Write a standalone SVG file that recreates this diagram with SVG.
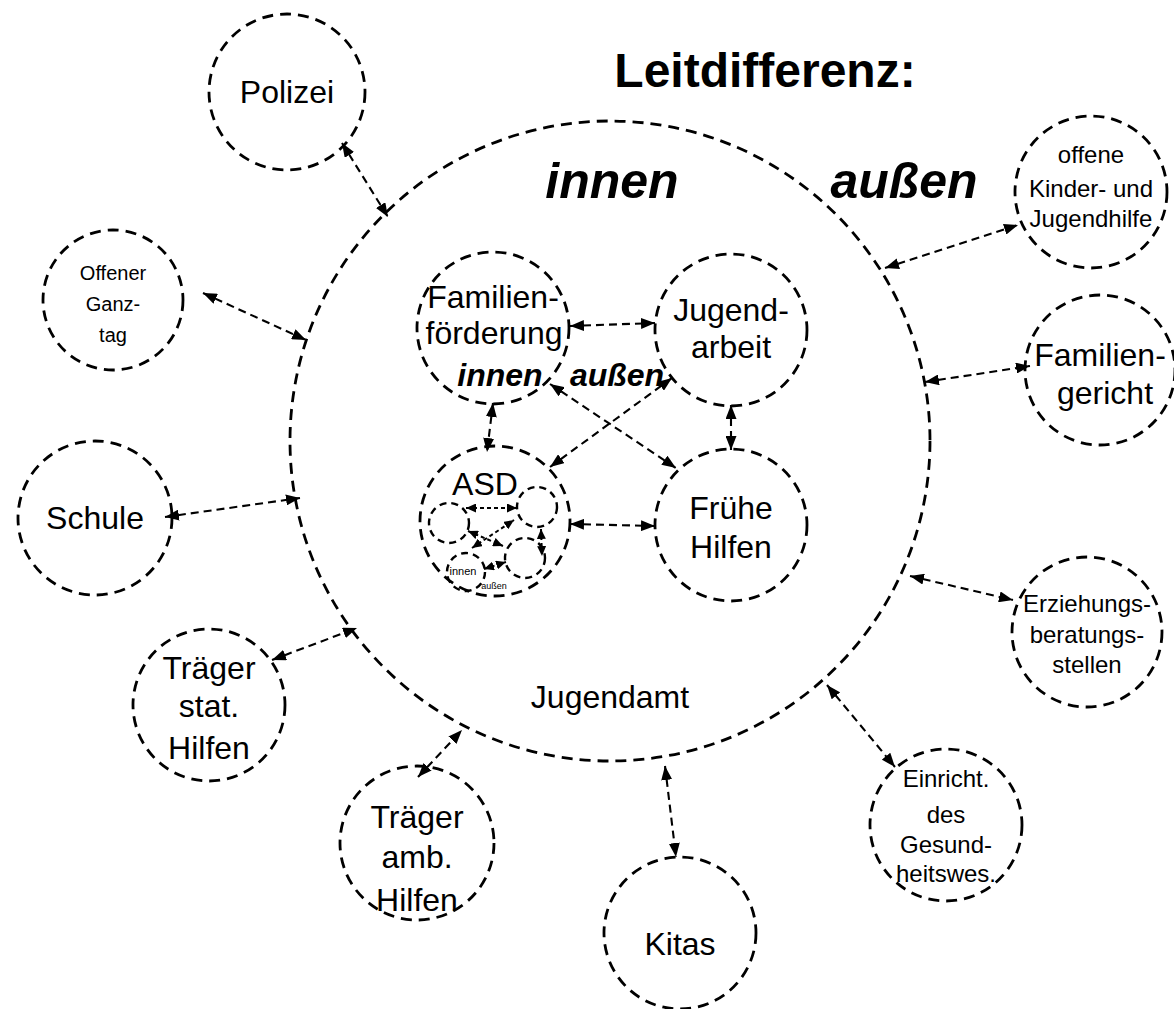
<svg xmlns="http://www.w3.org/2000/svg" width="1174" height="1009" viewBox="0 0 1174 1009">
  <style>
    .ring { fill: none; stroke: #000; stroke-width: 2.8; stroke-dasharray: 11 7; }
    .mini { fill: none; stroke: #000; stroke-width: 2.4; stroke-dasharray: 7 5; }
    .link { fill: none; stroke: #000; stroke-width: 2.1; stroke-dasharray: 8 5; marker-start: url(#ah); marker-end: url(#ah); }
    .mlink { fill: none; stroke: #000; stroke-width: 2; stroke-dasharray: 4 3; marker-start: url(#ahs); marker-end: url(#ahs); }
    text { font-family: "Liberation Sans", Arial, sans-serif; fill: #000; text-anchor: middle; }
    .t32 { font-size: 32px; }
    .t24 { font-size: 24px; }
    .t20 { font-size: 20px; }
    .big { font-size: 50px; font-weight: bold; font-style: italic; }
    .bi { font-size: 32px; font-weight: bold; font-style: italic; }
    .title { font-size: 48px; font-weight: bold; }
  </style>
  <defs>
    <marker id="ah" viewBox="0 0 14 11" refX="14" refY="5.5" markerWidth="14" markerHeight="11" markerUnits="userSpaceOnUse" orient="auto-start-reverse">
      <path d="M0,0 L14,5.5 L0,11 z" fill="#000"/>
    </marker>
    <marker id="ahs" viewBox="0 0 10 9" refX="10" refY="4.5" markerWidth="10" markerHeight="9" markerUnits="userSpaceOnUse" orient="auto-start-reverse">
      <path d="M0,0 L10,4.5 L0,9 z" fill="#000"/>
    </marker>
  </defs>

  <rect width="1174" height="1009" fill="#fff"/>

  <text class="title" x="765" y="87">Leitdifferenz:</text>

  <!-- Jugendamt: the large enclosing ring -->
  <g id="jugendamt">
    <circle class="ring" cx="610" cy="441" r="320"/>
    <text class="big" x="612" y="198">innen</text>
    <text class="big" x="904" y="198">außen</text>
    <text class="t32" x="610" y="708">Jugendamt</text>
  </g>

  <!-- inner services -->
  <g id="familienfoerderung">
    <circle class="ring" cx="493" cy="328" r="76"/>
    <text class="t32" x="493" y="308">Familien-</text>
    <text class="t32" x="494" y="344">förderung</text>
    <text class="bi" x="500" y="386">innen</text>
    <text class="bi" x="617" y="386">außen</text>
  </g>
  <g id="jugendarbeit">
    <circle class="ring" cx="731" cy="330" r="76"/>
    <text class="t32" x="731" y="321">Jugend-</text>
    <text class="t32" x="731" y="358">arbeit</text>
  </g>
  <g id="fruehe-hilfen">
    <circle class="ring" cx="731" cy="525" r="76"/>
    <text class="t32" x="731" y="519">Frühe</text>
    <text class="t32" x="731" y="558">Hilfen</text>
  </g>
  <g id="asd">
    <circle class="ring" cx="495" cy="521" r="75"/>
    <text class="t32" x="485" y="495">ASD</text>
    <!-- nested miniature of the four inner services -->
    <circle class="mini" cx="449" cy="523" r="20"/>
    <circle class="mini" cx="537" cy="507" r="20"/>
    <circle class="mini" cx="525" cy="558" r="20"/>
    <circle class="mini" cx="466" cy="572" r="19"/>
    <text x="463" y="575" style="font-size:11px">innen</text>
    <text x="494" y="589" style="font-size:9px">außen</text>
    <path class="mlink" d="M466,508 L517,508"/>
    <path class="mlink" d="M541,529 L542,556"/>
    <path class="mlink" d="M468,531 L503,546"/>
    <path class="mlink" d="M472,548 L514,520"/>
    <path class="mlink" d="M484,569 L506,562"/>
  </g>

  <!-- outer partners -->
  <g id="polizei">
    <circle class="ring" cx="287" cy="92" r="78"/>
    <text class="t32" x="287" y="103">Polizei</text>
  </g>
  <g id="offener-ganztag">
    <circle class="ring" cx="113" cy="300" r="70"/>
    <text class="t20" x="113" y="280">Offener</text>
    <text class="t20" x="113" y="311">Ganz-</text>
    <text class="t20" x="113" y="342">tag</text>
  </g>
  <g id="schule">
    <circle class="ring" cx="95" cy="518" r="77"/>
    <text class="t32" x="95" y="529">Schule</text>
  </g>
  <g id="traeger-stat">
    <circle class="ring" cx="209" cy="705" r="76"/>
    <text class="t32" x="209" y="679">Träger</text>
    <text class="t32" x="209" y="717">stat.</text>
    <text class="t32" x="209" y="759">Hilfen</text>
  </g>
  <g id="traeger-amb">
    <circle class="ring" cx="417" cy="843" r="77"/>
    <text class="t32" x="417" y="828">Träger</text>
    <text class="t32" x="417" y="868">amb.</text>
    <text class="t32" x="417" y="911">Hilfen</text>
  </g>
  <g id="kitas">
    <circle class="ring" cx="680" cy="933" r="76"/>
    <text class="t32" x="680" y="955">Kitas</text>
  </g>
  <g id="gesundheitswesen">
    <circle class="ring" cx="946" cy="825" r="76"/>
    <text class="t24" x="946" y="787">Einricht.</text>
    <text class="t24" x="946" y="823">des</text>
    <text class="t24" x="946" y="853">Gesund-</text>
    <text class="t24" x="946" y="882">heitswes.</text>
  </g>
  <g id="erziehungsberatung">
    <circle class="ring" cx="1087" cy="632" r="75"/>
    <text class="t24" x="1087" y="612">Erziehungs-</text>
    <text class="t24" x="1087" y="643">beratungs-</text>
    <text class="t24" x="1087" y="673">stellen</text>
  </g>
  <g id="familiengericht">
    <circle class="ring" cx="1100" cy="370" r="75"/>
    <text class="t32" x="1100" y="366">Familien-</text>
    <text class="t32" x="1105" y="404">gericht</text>
  </g>
  <g id="offene-jugendhilfe">
    <circle class="ring" cx="1091" cy="192" r="76"/>
    <text class="t24" x="1091" y="163">offene</text>
    <text class="t24" x="1091" y="197">Kinder- und</text>
    <text class="t24" x="1091" y="227">Jugendhilfe</text>
  </g>

  <!-- two-way links -->
  <g id="connectors">
    <path class="link" d="M342,143 L388,217"/>
    <path class="link" d="M203,293 L306,340"/>
    <path class="link" d="M165,517 L300,498"/>
    <path class="link" d="M272,660 L357,628"/>
    <path class="link" d="M418,777 L462,730"/>
    <path class="link" d="M665,766 L676,857"/>
    <path class="link" d="M827,685 L895,767"/>
    <path class="link" d="M910,576 L1013,600"/>
    <path class="link" d="M925,382 L1030,366"/>
    <path class="link" d="M885,268 L1018,225"/>

    <path class="link" d="M570,326 L655,323"/>
    <path class="link" d="M493,403 L487,452"/>
    <path class="link" d="M731,405 L731,450"/>
    <path class="link" d="M570,524 L655,526"/>
    <path class="link" d="M550,384 L676,468"/>
    <path class="link" d="M672,378 L550,467"/>
  </g>
</svg>
